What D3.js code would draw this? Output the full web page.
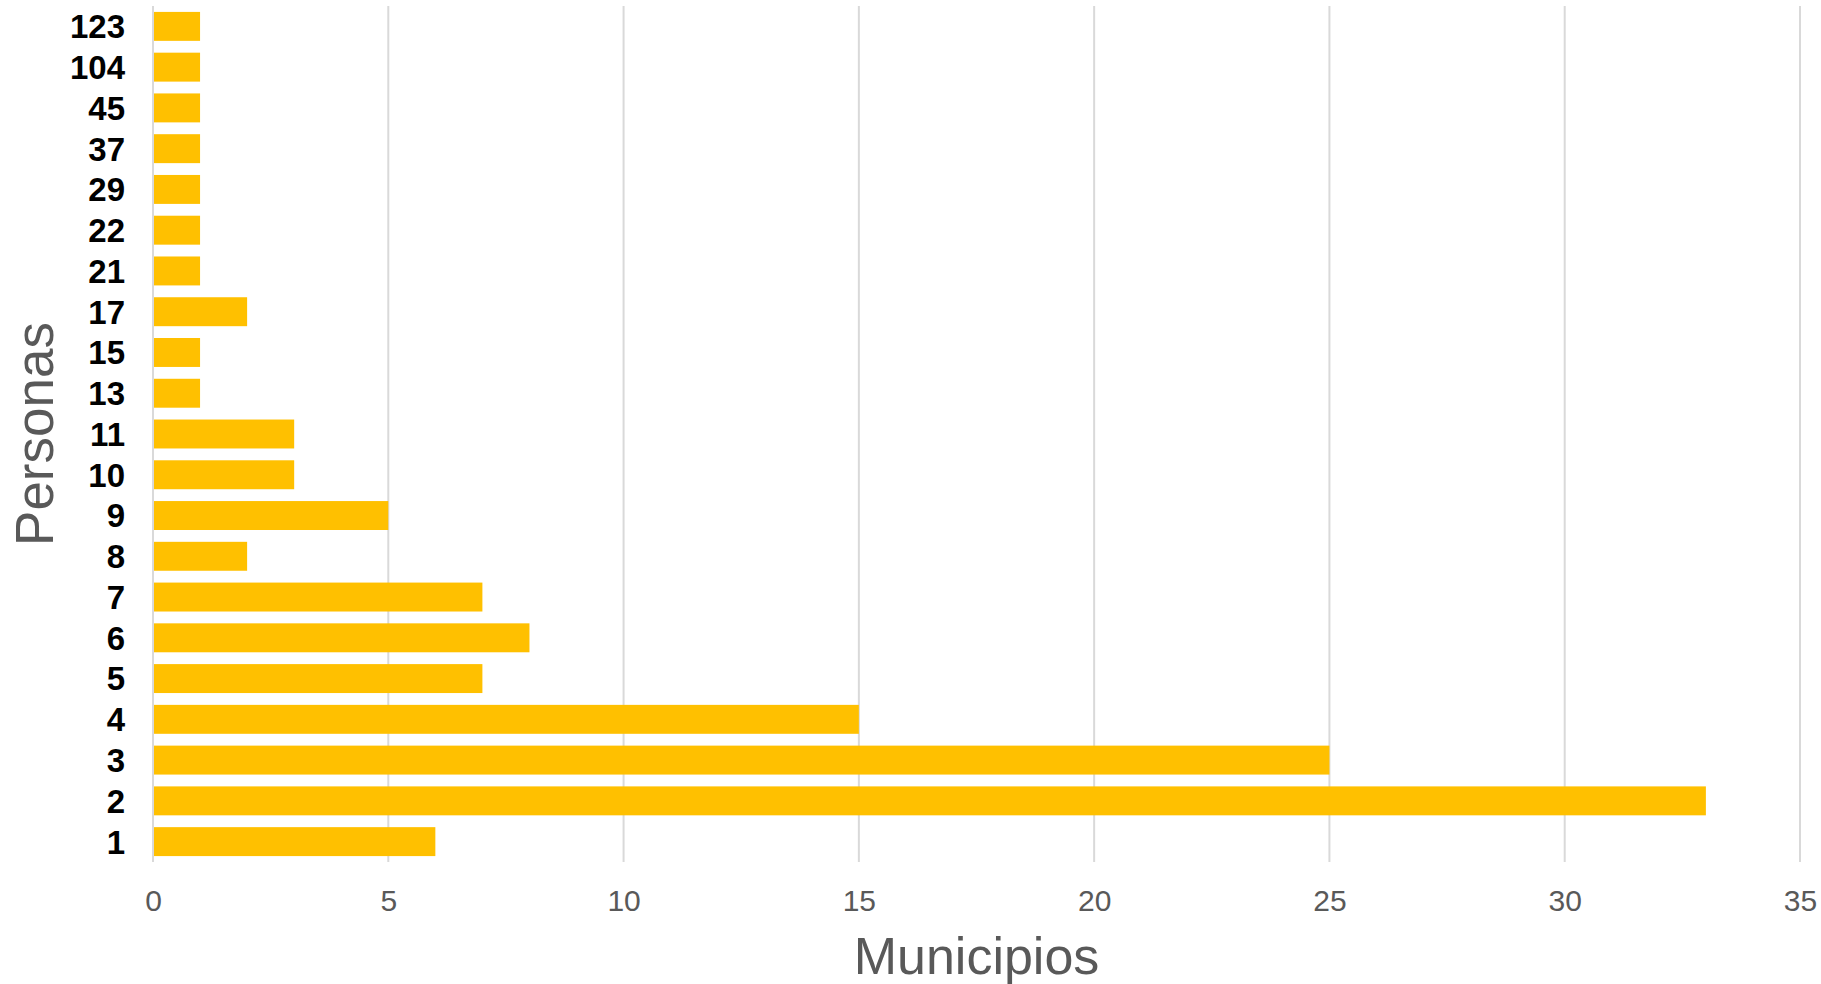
<!DOCTYPE html>
<html><head><meta charset="utf-8">
<script src="https://cdn.jsdelivr.net/npm/d3@7"></script>
<style>html,body{margin:0;padding:0;background:#fff;} svg{display:block;}</style>
</head><body>
<svg id="chart" width="1821" height="984"></svg>
<script>
const categories = ["123","104","45","37","29","22","21","17","15","13","11","10","9","8","7","6","5","4","3","2","1"];
const values =     [1,1,1,1,1,1,1,2,1,1,3,3,5,2,7,8,7,15,25,33,6];
const xTicks = [0,5,10,15,20,25,30,35];
const xTitle = "Municipios";
const yTitle = "Personas";

const svg = d3.select("#chart");
const m = {left:153, right:1800, top:6, bottom:862};
const x = d3.scaleLinear().domain([0,35]).range([m.left, m.right]);
const y = d3.scaleBand().domain(categories).range([m.top, m.bottom]).paddingInner(0.29).paddingOuter(0.145);

// gridlines
svg.append("g").selectAll("line").data(xTicks).join("line")
  .attr("x1", d=>x(d)).attr("x2", d=>x(d))
  .attr("y1", m.top).attr("y2", m.bottom)
  .attr("stroke", "#d9d9d9").attr("stroke-width", 2);

// bars
svg.append("g").selectAll("rect").data(categories).join("rect")
  .attr("x", x(0)+1)
  .attr("y", d=>y(d))
  .attr("width", (d,i)=>x(values[i])-x(0)-1)
  .attr("height", y.bandwidth())
  .attr("fill", "#FFC000");

// x tick labels
const xAxis = d3.axisBottom(x).tickValues(xTicks).tickSize(0).tickPadding(0).tickFormat(d3.format("d"));
const gx = svg.append("g").attr("transform", `translate(0,${900})`).call(xAxis);
gx.select(".domain").remove();
gx.selectAll("text").attr("font-family","Liberation Sans, Arial, sans-serif")
  .attr("font-size", 30).attr("fill", "#595959").attr("dy", "0.35em").attr("y", 0);

// y tick labels
const yAxis = d3.axisLeft(y).tickSize(0).tickPadding(0);
const gy = svg.append("g").attr("transform", `translate(125,0)`).call(yAxis);
gy.select(".domain").remove();
gy.selectAll("text").attr("font-family","Liberation Sans, Arial, sans-serif")
  .attr("font-size", 33).attr("font-weight","bold").attr("fill", "#000").attr("dy","0.36em");

// axis titles
svg.append("text").attr("x", (m.left+m.right)/2).attr("y", 974)
  .attr("text-anchor","middle").attr("font-family","Liberation Sans, Arial, sans-serif")
  .attr("font-size", 52).attr("fill","#595959").text(xTitle);
svg.append("text").attr("transform", `translate(53,${(m.top+m.bottom)/2}) rotate(-90)`)
  .attr("text-anchor","middle").attr("font-family","Liberation Sans, Arial, sans-serif")
  .attr("font-size", 53).attr("fill","#595959").text(yTitle);
</script>
</body></html>
